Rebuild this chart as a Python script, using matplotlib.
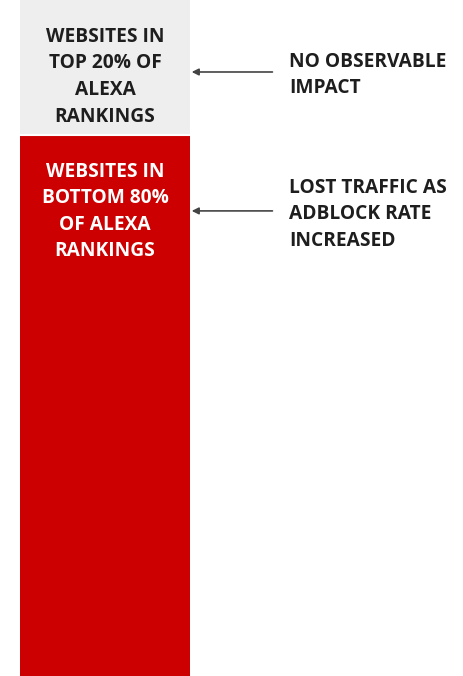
import matplotlib

matplotlib.use("Agg")
import matplotlib.pyplot as plt

plt.rcParams["font.family"] = ["Open Sans", "DejaVu Sans"]

segments = ["Top 20%", "Bottom 80%"]
shares = [20, 80]
segment_labels = [
    "WEBSITES IN\nTOP 20% OF\nALEXA\nRANKINGS",
    "WEBSITES IN\nBOTTOM 80%\nOF ALEXA\nRANKINGS",
]
notes = [
    "NO OBSERVABLE\nIMPACT",
    "LOST TRAFFIC AS\nADBLOCK RATE\nINCREASED",
]
colors = ["#eeeeee", "#cc0000"]
text_colors = ["#1e1e1e", "#ffffff"]

fig = plt.figure(figsize=(4.64, 6.76), dpi=100)
ax = fig.add_axes([0, 0, 1, 1])

label_offsets = [11.35, 11.3]
arrow_offsets = [10.65, 11.2]
note_offsets = [11.1, 11.7]

bottom = 0
for i, (share, label, note, c, tc) in enumerate(
        zip(shares, segment_labels, notes, colors, text_colors)):
    ax.bar(0, share, bottom=bottom, width=1.0, color=c, linewidth=0)
    ax.text(0, bottom + label_offsets[i], label, ha="center", va="center", color=tc,
            fontsize=13.8, fontweight="bold", linespacing=1.44)
    y_arrow = bottom + arrow_offsets[i]
    ax.annotate("", xy=(0.51, y_arrow), xytext=(0.985, y_arrow),
                arrowprops=dict(arrowstyle="-|>", color="#444444", lw=1.2,
                                mutation_scale=10, shrinkA=0, shrinkB=0))
    ax.text(1.082, bottom + note_offsets[i], note,
            ha="left", va="center", color="#1e1e1e",
            fontsize=13.8, fontweight="bold", linespacing=1.44)
    bottom += share

# thin white gap between the two segments
ax.axhline(shares[0], xmin=0, xmax=1, color="white", lw=1.5)

ax.set_xlim(-105 / 170, (464 - 105) / 170)
ax.set_ylim(100, 0)
ax.axis("off")

fig.savefig("out.png", dpi=100)
plt.close(fig)
